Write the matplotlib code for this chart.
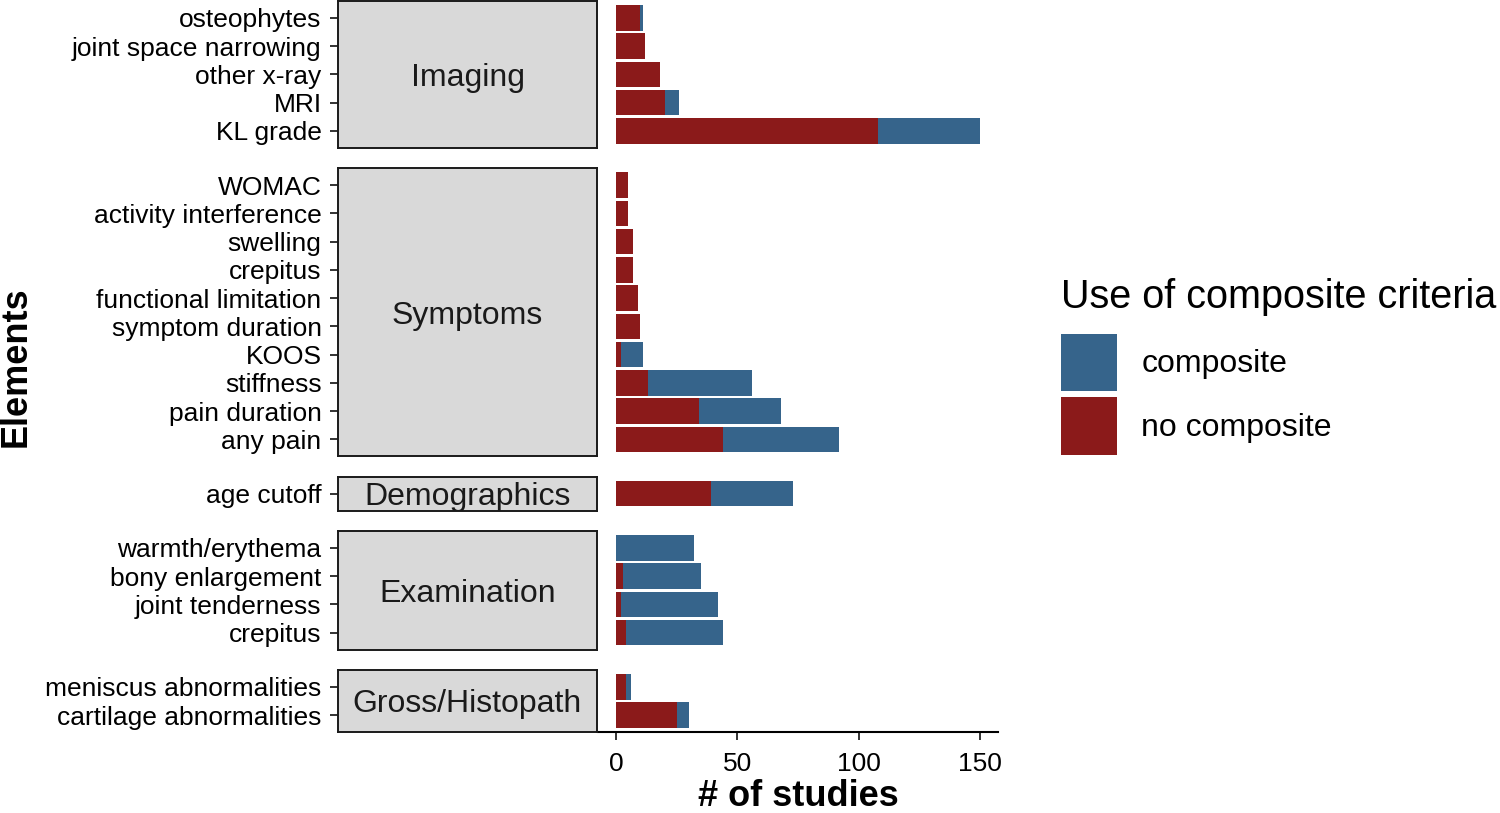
import matplotlib
matplotlib.use('Agg')
import matplotlib.pyplot as plt
from matplotlib.patches import Patch
from matplotlib.transforms import ScaledTranslation

plt.rcParams['font.family'] = ['Liberation Sans', 'DejaVu Sans']

# ---------------- data ----------------
groups = ['Imaging', 'Symptoms', 'Demographics', 'Examination', 'Gross/Histopath']
element_group = (['Imaging'] * 5 + ['Symptoms'] * 10 + ['Demographics'] * 1
                 + ['Examination'] * 4 + ['Gross/Histopath'] * 2)
elements = ['osteophytes', 'joint space narrowing', 'other x-ray', 'MRI', 'KL grade',
            'WOMAC', 'activity interference', 'swelling', 'crepitus',
            'functional limitation', 'symptom duration', 'KOOS', 'stiffness',
            'pain duration', 'any pain',
            'age cutoff',
            'warmth/erythema', 'bony enlargement', 'joint tenderness', 'crepitus',
            'meniscus abnormalities', 'cartilage abnormalities']
no_composite = [10, 12, 18, 20, 108,
                5, 5, 7, 7, 9, 10, 2, 13, 34, 44,
                39,
                0, 3, 2, 4,
                4, 25]
composite = [1, 0, 0, 6, 42,
             0, 0, 0, 0, 0, 0, 9, 43, 34, 48,
             34,
             32, 32, 40, 40,
             2, 5]
x_ticks = [0, 50, 100, 150]

RED = '#8B1A1A'
BLUE = '#36648B'

# ---------------- layout ----------------
W, H = 1500, 813
fig = plt.figure(figsize=(W / 100, H / 100), dpi=100)

top_px, bottom_px, gap_px = 1, 732, 20.3
counts = [element_group.count(g) for g in groups]
units = [n - 1 + 1.2 for n in counts]
u = (bottom_px - top_px - gap_px * (len(groups) - 1)) / sum(units)

panel_l, panel_r = 598, 998
strip_l, strip_r = 338, 597

y0 = top_px
for gi, g in enumerate(groups):
    idx = [i for i, eg in enumerate(element_group) if eg == g]
    n = len(idx)
    hpx = units[gi] * u
    rect_y = 1 - (y0 + hpx) / H
    ax = fig.add_axes([panel_l / W, rect_y, (panel_r - panel_l) / W, hpx / H])
    pos = list(range(n))
    nc = [no_composite[i] for i in idx]
    cc = [composite[i] for i in idx]
    ax.barh(pos, nc, height=0.9, color=RED, linewidth=0)
    ax.barh(pos, cc, left=nc, height=0.9, color=BLUE, linewidth=0)
    ax.set_ylim(n - 1 + 0.6, -0.6)
    ax.set_xlim(-7.5, 157.5)
    ax.set_yticks([])
    for s in ['top', 'right', 'left']:
        ax.spines[s].set_visible(False)
    if gi == len(groups) - 1:
        ax.spines['bottom'].set_linewidth(1.5)
        ax.spines['bottom'].set_color('black')
        ax.set_xticks(x_ticks)
        ax.set_xticklabels([str(t) for t in x_ticks], fontsize=19, color='black')
        ax.tick_params(axis='x', length=5.8, width=1.4, color='#333333', pad=8.3)
    else:
        ax.spines['bottom'].set_visible(False)
        ax.set_xticks([])

    # strip
    sax = fig.add_axes([strip_l / W, rect_y, (strip_r - strip_l) / W, hpx / H])
    sax.set_facecolor('#D9D9D9')
    for s in sax.spines.values():
        s.set_color('#1A1A1A')
        s.set_linewidth(1.4)
    sax.set_xticks([])
    sax.set_ylim(n - 1 + 0.6, -0.6)
    sax.set_yticks(pos)
    sax.set_yticklabels([elements[i] for i in idx], fontsize=19, color='black')
    sax.tick_params(axis='y', length=5.8, width=1.4, color='#333333', pad=6)
    off = ScaledTranslation(0, -0.358 * 23 / 72, fig.dpi_scale_trans)
    sax.text(0.5, 0.5, g, transform=sax.transAxes + off, ha='center', va='baseline',
             fontsize=23, color='#1A1A1A', clip_on=True)
    y0 += hpx + gap_px

# axis titles
fig.text(798 / W, 1 - 806 / H, '# of studies', ha='center', va='baseline',
         fontsize=26, fontweight='bold')
fig.text(16 / W, 1 - 367 / H, 'Elements', ha='center', va='center',
         fontsize=26, fontweight='bold', rotation=90)

# legend
handles = [Patch(facecolor=BLUE, edgecolor='none'), Patch(facecolor=RED, edgecolor='none')]
leg = fig.legend(handles=handles, labels=['composite', 'no composite'],
                 title='Use of composite criteria', loc='upper left',
                 bbox_to_anchor=(1061 / W, 1 - 278 / H), frameon=False,
                 fontsize=23, title_fontsize=28.5, handlelength=1.76, handleheight=2.37,
                 labelspacing=0.2, handletextpad=0.75, borderpad=0, borderaxespad=0,
                 alignment='left')
leg._legend_box.sep = 13

fig.savefig('out.png', dpi=100)
